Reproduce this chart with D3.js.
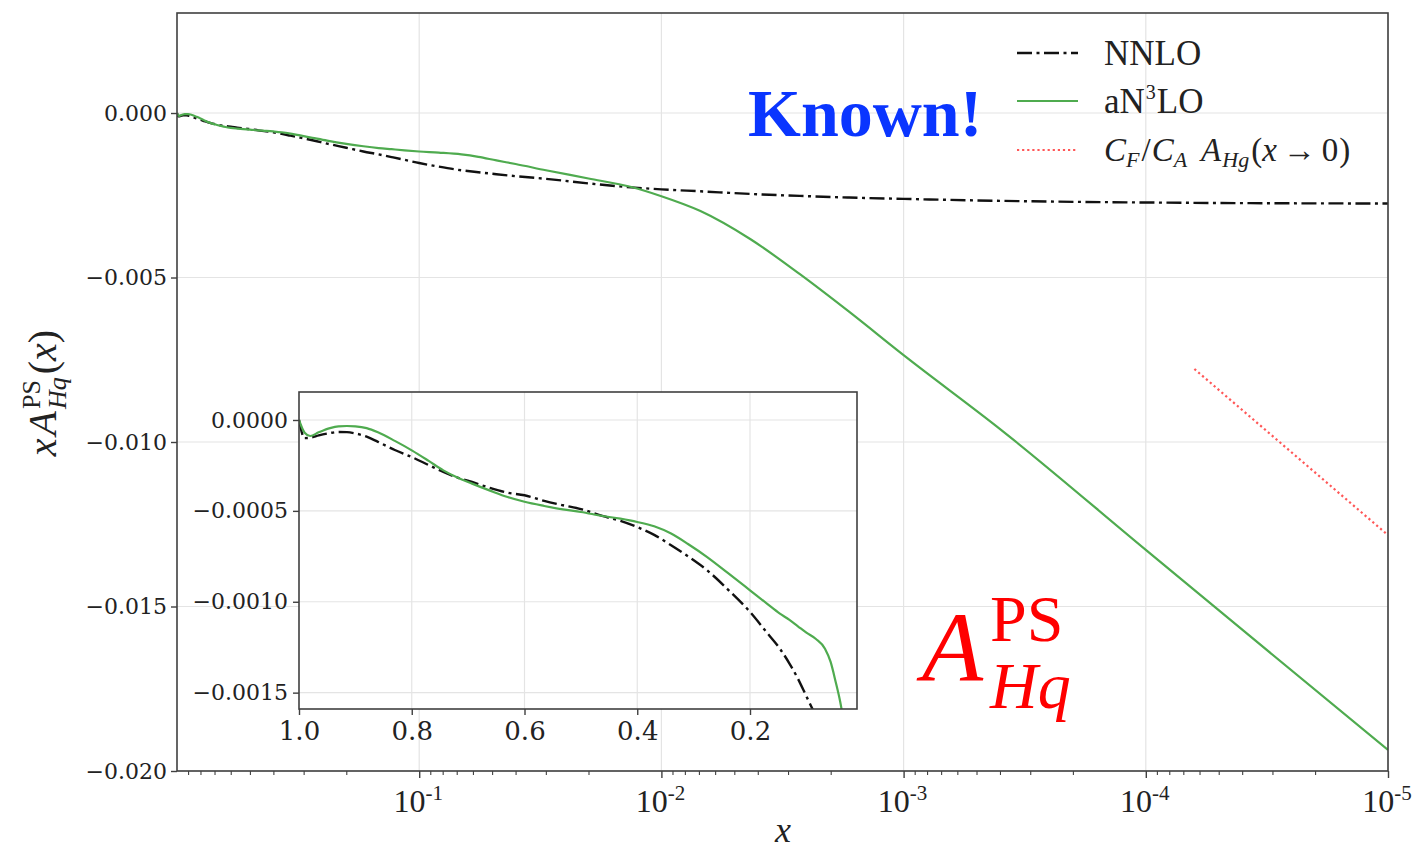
<!DOCTYPE html>
<html>
<head>
<meta charset="utf-8">
<script src="https://cdn.jsdelivr.net/npm/d3@7"></script>
<style>
  body { margin: 0; background: #ffffff; }
  svg { display: block; }
</style>
</head>
<body>
<svg id="chart" width="1427" height="850"></svg>
<script>
// Sample points in x (descending) shared by all curves
const xValues = [1.0, 0.99, 0.98, 0.965, 0.945, 0.93, 0.915, 0.9, 0.88, 0.86, 0.83, 0.8, 0.77, 0.744, 0.72,
  0.693, 0.66, 0.63, 0.6, 0.565, 0.532, 0.5, 0.462, 0.43, 0.4, 0.37, 0.34, 0.31, 0.276, 0.24, 0.2, 0.17,
  0.147, 0.13, 0.115, 0.1, 0.083, 0.067, 0.057, 0.048, 0.04, 0.03, 0.02, 0.0133, 0.01, 0.0069, 0.0043,
  0.00268, 0.00168, 0.001, 0.000396, 0.0001, 0.000037, 0.00001];

// x * A_Hq^PS at NNLO
const nnloValues = [0.0, -0.000100, -0.000098, -0.000085, -0.000072, -0.000066, -0.000067, -0.000074, -0.000092,
  -0.000120, -0.000165, -0.000204, -0.000248, -0.000286, -0.000316, -0.000341, -0.000375, -0.000400, -0.000414,
  -0.000445, -0.000469, -0.000490, -0.000528, -0.000555, -0.000589, -0.000632, -0.000689, -0.000750, -0.000827,
  -0.000930, -0.001056, -0.00117, -0.001258, -0.00134, -0.001423, -0.00152, -0.00163, -0.00174, -0.00180,
  -0.00186, -0.00192, -0.00200, -0.00214, -0.00226, -0.00232, -0.00238, -0.00246, -0.00252, -0.00257,
  -0.00261, -0.00267, -0.00272, -0.00274, -0.00275];

// x * A_Hq^PS at approximate N3LO
const an3loValues = [0.0, -0.000070, -0.000088, -0.000068, -0.000045, -0.000035, -0.000033, -0.000035, -0.000045,
  -0.000068, -0.000115, -0.000167, -0.000225, -0.000277, -0.000315, -0.000350, -0.000390, -0.000424, -0.000450,
  -0.000473, -0.000492, -0.000506, -0.000528, -0.000543, -0.000561, -0.000585, -0.000625, -0.000682, -0.000754,
  -0.000840, -0.000937, -0.00101, -0.001065, -0.00110, -0.001135, -0.00117, -0.001205, -0.001258, -0.001331,
  -0.001441, -0.00155, -0.00174, -0.00199, -0.00225, -0.00253, -0.00298, -0.00383, -0.00490, -0.00604,
  -0.00736, -0.00963, -0.01328, -0.01591, -0.01936];

// Small-x limit: C_F/C_A * A_Hg(x -> 0)
const limitX = [0.000063, 0.00001];
const limitValues = [-0.00778, -0.01283];

// Tick values and labels
const mainXTicks = [1e-1, 1e-2, 1e-3, 1e-4, 1e-5];
const mainXTickExponents = ["-1", "-2", "-3", "-4", "-5"];
const mainYTicks = [0, -0.005, -0.010, -0.015, -0.020];
const mainYTickLabels = ["0.000", "\u22120.005", "\u22120.010", "\u22120.015", "\u22120.020"];
const insetXTicks = [1.0, 0.8, 0.6, 0.4, 0.2];
const insetXTickLabels = ["1.0", "0.8", "0.6", "0.4", "0.2"];
const insetYTicks = [0, -0.0005, -0.0010, -0.0015];
const insetYTickLabels = ["0.0000", "\u22120.0005", "\u22120.0010", "\u22120.0015"];

const COLORS = { nnlo: "#111111", an3lo: "#4fab4f", limit: "#ff4545", spine: "#404040", grid: "#e4e4e4", text: "#222222" };
const SERIF = "'Liberation Serif', 'DejaVu Serif', serif";
const TICKFONT = "'DejaVu Serif', serif";
const DASHDOT = "15,4.5,3,4.5";
const DOTTED = "2.2,2.9";

const svg = d3.select("#chart");
const defs = svg.append("defs");

// Lay out a run of rich-text pieces (sub/superscripts) from a start point
function mathText(g, pieces, x, y, anchor, color) {
  const grp = g.append("g");
  let cursor = 0, lastStart = 0, maxEnd = 0;
  pieces.forEach(p => {
    const t = grp.append("text")
      .attr("font-family", p.font || SERIF)
      .attr("font-size", p.size)
      .attr("font-style", p.italic ? "italic" : "normal")
      .attr("font-weight", p.bold ? "bold" : "normal")
      .attr("fill", color)
      .text(p.t);
    const w = t.node().getComputedTextLength();
    const start = p.stack ? lastStart : cursor + (p.gap || 0);
    t.attr("x", start).attr("y", p.dy || 0);
    lastStart = start;
    cursor = p.stack ? Math.max(cursor, start + w) : start + w;
    maxEnd = Math.max(maxEnd, cursor);
  });
  let off = 0;
  if (anchor === "middle") off = -maxEnd / 2;
  if (anchor === "end") off = -maxEnd;
  grp.attr("transform", `translate(${x + off},${y})`);
  grp.property("__width", maxEnd);
  return grp;
}

// ---------------- main panel ----------------
const M = { left: 177, right: 1388, top: 13, bottom: 771 };
const x = d3.scaleLog().domain([1, 1e-5]).range([M.left, M.right]);
const y = d3.scaleLinear().domain([-0.020, 0.00304]).range([M.bottom, M.top]);

const main = svg.append("g");

// grid
main.append("g").selectAll("line").data(mainXTicks).join("line")
  .attr("x1", d => x(d)).attr("x2", d => x(d)).attr("y1", M.top).attr("y2", M.bottom)
  .attr("stroke", COLORS.grid).attr("stroke-width", 1.2);
main.append("g").selectAll("line").data(mainYTicks).join("line")
  .attr("x1", M.left).attr("x2", M.right).attr("y1", d => y(d)).attr("y2", d => y(d))
  .attr("stroke", COLORS.grid).attr("stroke-width", 1.2);

const pts = xValues.map((xv, i) => ({ x: xv, nnlo: nnloValues[i], an3lo: an3loValues[i] }));
const lineMain = key => d3.line().x(d => x(d.x)).y(d => y(d[key])).curve(d3.curveMonotoneX);

defs.append("clipPath").attr("id", "mainClip")
  .append("rect").attr("x", M.left).attr("y", M.top).attr("width", M.right - M.left).attr("height", M.bottom - M.top);

const curves = main.append("g").attr("clip-path", "url(#mainClip)");
curves.append("path").datum(pts).attr("d", lineMain("nnlo"))
  .attr("fill", "none").attr("stroke", COLORS.nnlo).attr("stroke-width", 2.4)
  .attr("stroke-dasharray", DASHDOT);
curves.append("path").datum(pts).attr("d", lineMain("an3lo"))
  .attr("fill", "none").attr("stroke", COLORS.an3lo).attr("stroke-width", 2.2);
const limPts = limitX.map((xv, i) => ({ x: xv, v: limitValues[i] }));
curves.append("path").datum(limPts)
  .attr("d", d3.line().x(d => x(d.x)).y(d => y(d.v)))
  .attr("fill", "none").attr("stroke", COLORS.limit).attr("stroke-width", 2.2)
  .attr("stroke-dasharray", DOTTED).attr("opacity", 0.9);

// axes
const minorX = [];
for (let e = 0; e > -5; e--) for (let m = 2; m <= 9; m++) minorX.push(m * Math.pow(10, e - 1));
main.append("g").attr("transform", `translate(0,${M.bottom})`)
  .call(d3.axisBottom(x).tickValues(minorX).tickSize(4).tickFormat(""))
  .call(g => { g.select(".domain").remove(); g.selectAll("line").attr("stroke", COLORS.spine).attr("stroke-width", 1.1); });
main.append("g").attr("transform", `translate(0,${M.bottom})`)
  .call(d3.axisBottom(x).tickValues(mainXTicks).tickSize(7).tickFormat(""))
  .call(g => { g.select(".domain").remove(); g.selectAll("line").attr("stroke", COLORS.spine).attr("stroke-width", 1.4); });

main.append("g").attr("transform", `translate(${M.left},0)`)
  .call(d3.axisLeft(y).tickValues(mainYTicks).tickSize(6).tickPadding(4).tickFormat((d, i) => mainYTickLabels[i]))
  .call(g => {
    g.select(".domain").remove();
    g.selectAll("line").attr("stroke", COLORS.spine).attr("stroke-width", 1.4);
    g.selectAll("text").attr("font-family", TICKFONT).attr("font-size", 22).attr("fill", COLORS.text);
  });

// frame
main.append("rect").attr("x", M.left).attr("y", M.top).attr("width", M.right - M.left).attr("height", M.bottom - M.top)
  .attr("fill", "none").attr("stroke", COLORS.spine).attr("stroke-width", 1.6);

// x tick labels 10^{-n}
mainXTicks.forEach((t, i) => {
  mathText(main, [
    { t: "10", size: 32 },
    { t: mainXTickExponents[i], size: 21, dy: -12 }
  ], x(t) - 1, 812, "middle", COLORS.text);
});

// axis titles
mathText(main, [{ t: "x", size: 36, italic: true }], 783, 842, "middle", COLORS.text);
const ylab = mathText(main, [
  { t: "x", size: 40, italic: true },
  { t: "A", size: 40, italic: true, gap: 3 },
  { t: "PS", size: 26, dy: -16, gap: 2 },
  { t: "Hq", size: 26, italic: true, dy: 10, stack: true },
  { t: "(", size: 40, gap: 3 },
  { t: "x", size: 40, italic: true },
  { t: ")", size: 40 }
], 0, 0, "start", COLORS.text);
const ylabW = ylab.property("__width");
ylab.attr("transform", `translate(56,393) rotate(-90) translate(${-ylabW / 2},0)`);

// legend
const legendRows = [
  { key: "nnlo", y: 53 },
  { key: "an3lo", y: 101 },
  { key: "limit", y: 150 }
];
const lg = main.append("g");
legendRows.forEach(r => {
  const l = lg.append("line").attr("x1", 1017).attr("x2", 1078).attr("y1", r.y).attr("y2", r.y)
    .attr("stroke", COLORS[r.key]);
  if (r.key === "nnlo") l.attr("stroke-width", 2.4).attr("stroke-dasharray", DASHDOT);
  if (r.key === "an3lo") l.attr("stroke-width", 2.2);
  if (r.key === "limit") l.attr("stroke-width", 2.2).attr("stroke-dasharray", DOTTED).attr("opacity", 0.9);
});
mathText(lg, [{ t: "NNLO", size: 35 }], 1104, 53 + 12, "start", COLORS.text);
mathText(lg, [{ t: "aN", size: 35 }, { t: "3", size: 20, dy: -14, gap: 1 }, { t: "LO", size: 35, gap: 1 }], 1104, 101 + 12, "start", COLORS.text);
mathText(lg, [
  { t: "C", size: 33, italic: true },
  { t: "F", size: 22, italic: true, dy: 6 },
  { t: "/", size: 33, gap: 2 },
  { t: "C", size: 33, italic: true, gap: 1 },
  { t: "A", size: 22, italic: true, dy: 6 },
  { t: "A", size: 33, italic: true, gap: 14 },
  { t: "Hg", size: 22, italic: true, dy: 6, gap: 1 },
  { t: "(", size: 33, gap: 2 },
  { t: "x", size: 33, italic: true },
  { t: "\u2192", size: 33, gap: 6 },
  { t: "0", size: 33, gap: 6 },
  { t: ")", size: 33, gap: 1 }
], 1104, 150 + 11, "start", COLORS.text);

// annotations
mathText(main, [{ t: "Known!", size: 68, bold: true }], 748, 136, "start", "#0a35ff");
mathText(main, [
  { t: "A", size: 100, italic: true },
  { t: "PS", size: 66, dy: -40, gap: 7 },
  { t: "Hq", size: 66, italic: true, dy: 27, stack: true }
], 922, 681, "start", "#ff0000");

// ---------------- inset panel ----------------
const I = { left: 299, right: 857, top: 392, bottom: 709 };
const xi = d3.scaleLinear().domain([1.0, 0.0102]).range([I.left, I.right]);
const yi = d3.scaleLinear().domain([-0.00159, 0.000154]).range([I.bottom, I.top]);

const inset = svg.append("g");
inset.append("rect").attr("x", I.left).attr("y", I.top).attr("width", I.right - I.left).attr("height", I.bottom - I.top)
  .attr("fill", "#ffffff");
inset.append("g").selectAll("line").data(insetXTicks.slice(1)).join("line")
  .attr("x1", d => xi(d)).attr("x2", d => xi(d)).attr("y1", I.top).attr("y2", I.bottom)
  .attr("stroke", COLORS.grid).attr("stroke-width", 1.2);
inset.append("g").selectAll("line").data(insetYTicks).join("line")
  .attr("x1", I.left).attr("x2", I.right).attr("y1", d => yi(d)).attr("y2", d => yi(d))
  .attr("stroke", COLORS.grid).attr("stroke-width", 1.2);

defs.append("clipPath").attr("id", "insetClip")
  .append("rect").attr("x", I.left).attr("y", I.top).attr("width", I.right - I.left).attr("height", I.bottom - I.top);

const insetPts = pts.filter(d => d.x >= 0.009);
const lineInset = key => d3.line().x(d => xi(d.x)).y(d => yi(d[key])).curve(d3.curveMonotoneX);
const ic = inset.append("g").attr("clip-path", "url(#insetClip)");
ic.append("path").datum(insetPts).attr("d", lineInset("nnlo"))
  .attr("fill", "none").attr("stroke", COLORS.nnlo).attr("stroke-width", 2.4)
  .attr("stroke-dasharray", DASHDOT);
ic.append("path").datum(insetPts).attr("d", lineInset("an3lo"))
  .attr("fill", "none").attr("stroke", COLORS.an3lo).attr("stroke-width", 2.2);

inset.append("g").attr("transform", `translate(0,${I.bottom})`)
  .call(d3.axisBottom(xi).tickValues(insetXTicks).tickSize(6).tickPadding(7).tickFormat((d, i) => insetXTickLabels[i]))
  .call(g => {
    g.select(".domain").remove();
    g.selectAll("line").attr("stroke", COLORS.spine).attr("stroke-width", 1.4);
    g.selectAll("text").attr("font-family", TICKFONT).attr("font-size", 26).attr("fill", COLORS.text);
  });
inset.append("g").attr("transform", `translate(${I.left},0)`)
  .call(d3.axisLeft(yi).tickValues(insetYTicks).tickSize(6).tickPadding(5).tickFormat((d, i) => insetYTickLabels[i]))
  .call(g => {
    g.select(".domain").remove();
    g.selectAll("line").attr("stroke", COLORS.spine).attr("stroke-width", 1.4);
    g.selectAll("text").attr("font-family", TICKFONT).attr("font-size", 22).attr("fill", COLORS.text);
  });
inset.append("rect").attr("x", I.left).attr("y", I.top).attr("width", I.right - I.left).attr("height", I.bottom - I.top)
  .attr("fill", "none").attr("stroke", COLORS.spine).attr("stroke-width", 1.6);
</script>
</body>
</html>
